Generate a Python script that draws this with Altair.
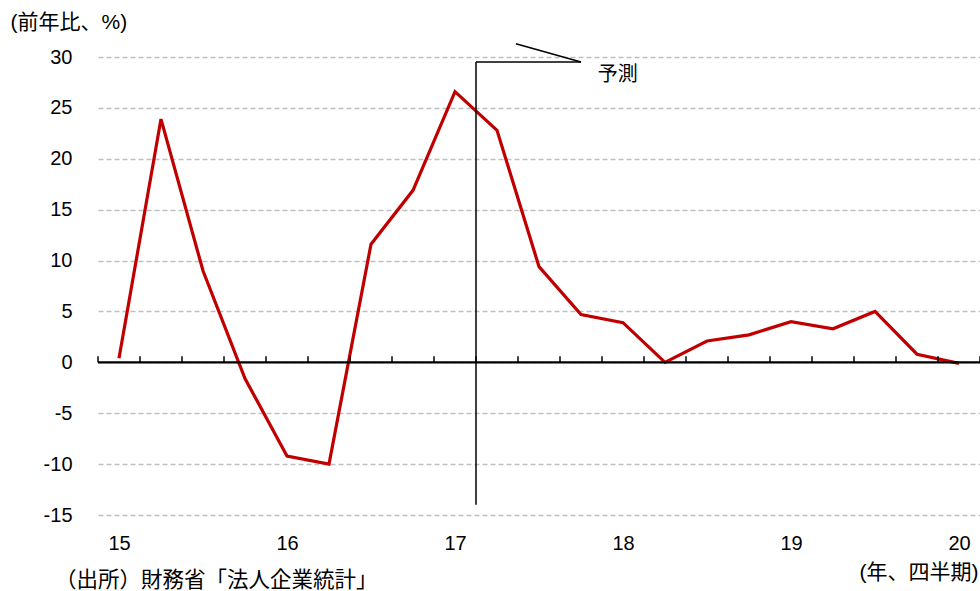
import altair as alt
import pandas as pd

# ---- data ----
quarter_index = list(range(21))  # 15/1Q ... 20/1Q
growth = [0.4, 23.9, 9.0, -1.6, -9.2, -10.0, 11.6, 16.9, 26.6, 22.8, 9.4,
          4.7, 3.9, 0.0, 2.1, 2.7, 4.0, 3.3, 5.0, 0.8, -0.1]
year_tick_index = [0, 4, 8, 12, 16, 20]
year_labels = ["15", "16", "17", "18", "19", "20"]
y_ticks = [-15, -10, -5, 0, 5, 10, 15, 20, 25, 30]
quarter_bounds = [i - 0.5 for i in range(22)]

# forecast marker (data coordinates)
forecast_start = 8.5
forecast_top = 29.5
forecast_bottom = -14.0
forecast_arm_end = 11.0
pointer_start = (9.45, 31.3)
label_pos = (11.4, 28.2)

W, H = 882, 458
FONT = "Liberation Sans, Arial, Noto Sans CJK JP"
FS = 20

df = pd.DataFrame({"i": quarter_index, "v": growth})
ticks_df = pd.DataFrame({"i": quarter_bounds})
one = pd.DataFrame({"a": [0]})

xs = alt.Scale(domain=[-0.5, 20.5], nice=False, zero=False)
ys = alt.Scale(domain=[-15, 30], nice=False, zero=False)

label_js = "[" + ",".join("'%s'" % s for s in year_labels) + "]"

line = alt.Chart(df).mark_line(color="#C00000", strokeWidth=3.2, clip=False).encode(
    x=alt.X("i:Q", scale=xs, axis=alt.Axis(
        values=year_tick_index,
        labelExpr=label_js + "[round(datum.value/4)]",
        grid=False, ticks=False, domain=False,
        labelPadding=18, labelFontSize=FS, labelColor="#000",
        title="(年、四半期)", titleX=880, titleY=57, titleAlign="right",
        titleBaseline="middle", titleAngle=0, titleFontSize=21,
        titleFontWeight="normal", titleColor="#000")),
    y=alt.Y("v:Q", scale=ys, axis=alt.Axis(
        values=y_ticks,
        labelExpr="datum.value < 0 ? '-' + abs(datum.value) : '' + datum.value",
        grid=True, gridDash=[5, 3], gridColor="#BFBFBF", gridWidth=1.5,
        ticks=False, domain=False, labelPadding=26, labelFontSize=FS,
        labelColor="#000",
        title="(前年比、%)", titleX=-88, titleY=-35, titleAlign="left",
        titleBaseline="middle", titleAngle=0, titleFontSize=21,
        titleFontWeight="normal", titleColor="#000")),
)

zero_line = alt.Chart(one).mark_rule(color="#000", strokeWidth=2.2).encode(
    y=alt.datum(0)
)

quarter_ticks = alt.Chart(ticks_df).mark_rule(color="#000", strokeWidth=1.5).encode(
    x=alt.X("i:Q", scale=xs),
    y=alt.datum(0),
    y2=alt.datum(0.6),
)

fc_vert = alt.Chart(one).mark_rule(color="#000", strokeWidth=1.5).encode(
    x=alt.datum(forecast_start), y=alt.datum(forecast_bottom), y2=alt.datum(forecast_top)
)
fc_horiz = alt.Chart(one).mark_rule(color="#000", strokeWidth=1.5).encode(
    x=alt.datum(forecast_start), x2=alt.datum(forecast_arm_end), y=alt.datum(forecast_top)
)
fc_pointer = alt.Chart(one).mark_rule(color="#000", strokeWidth=1.5, clip=False).encode(
    x=alt.datum(pointer_start[0]), x2=alt.datum(forecast_arm_end),
    y=alt.datum(pointer_start[1]), y2=alt.datum(forecast_top)
)
fc_label = alt.Chart(one).mark_text(
    align="left", baseline="middle", fontSize=FS, font=FONT, color="#000"
).encode(x=alt.datum(label_pos[0]), y=alt.datum(label_pos[1]), text=alt.value("予測"))

source = alt.Chart(one).mark_text(
    align="left", baseline="middle", fontSize=21.5, font=FONT, color="#000"
).encode(x=alt.value(-43), y=alt.value(H + 66), text=alt.value("（出所）財務省「法人企業統計」"))

chart = alt.layer(
    line, zero_line, quarter_ticks, fc_vert, fc_horiz, fc_pointer, fc_label, source
).properties(
    width=W, height=H,
    autosize=alt.AutoSizeParams(type="none"),
    padding={"left": 98, "top": 57, "right": 0, "bottom": 76},
).configure(font=FONT).configure_axis(
    labelFont=FONT, titleFont=FONT
).configure_view(stroke=None)

chart.save("out.html", embed_options={"renderer": "svg", "actions": False})
